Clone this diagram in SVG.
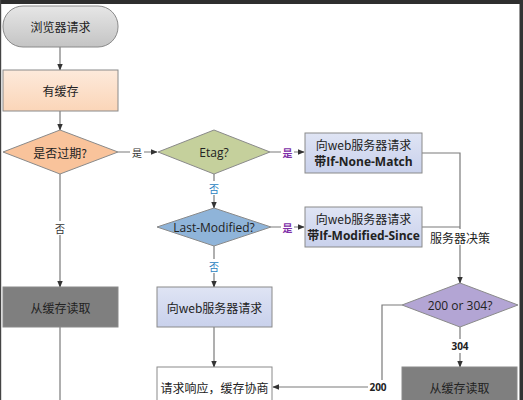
<svg xmlns="http://www.w3.org/2000/svg" width="523" height="400" viewBox="0 0 523 400">
<defs>
<linearGradient id="gStart" x1="0" y1="0" x2="0" y2="1"><stop offset="0" stop-color="#e6e6e6"/><stop offset="1" stop-color="#c4c4c4"/></linearGradient>
<linearGradient id="gPeach" x1="0" y1="0" x2="0" y2="1"><stop offset="0" stop-color="#fdeadb"/><stop offset="1" stop-color="#fbd5b8"/></linearGradient>
<linearGradient id="gBlue" x1="0" y1="0" x2="0" y2="1"><stop offset="0" stop-color="#dfe4f4"/><stop offset="1" stop-color="#c9d1ec"/></linearGradient>
<marker id="arr" viewBox="0 0 10 10" refX="9" refY="5" markerWidth="7" markerHeight="7" orient="auto" markerUnits="userSpaceOnUse"><path d="M0,1 L10,5 L0,9 Z" fill="#333"/></marker>
<style>
.lbl{font-family:"Noto Sans CJK SC","Noto Sans",sans-serif;font-size:12px;fill:#222;text-anchor:middle;dominant-baseline:central}
.en{font-family:"Open Sans","Noto Sans CJK SC",sans-serif;font-size:12px;fill:#222;text-anchor:middle;dominant-baseline:central}
.cn{stroke:#7a7a7a;stroke-width:1.2;fill:none}
.box{stroke:#8a8a8a;stroke-width:1}
.tag{font-family:"Noto Sans CJK SC",sans-serif;font-size:10px;text-anchor:middle;dominant-baseline:central}
</style>
</defs>
<rect width="523" height="400" fill="#ffffff"/>
<rect x="0" y="0" width="523" height="4" fill="#2e2e2e"/>
<rect x="0" y="0" width="1.2" height="400" fill="#444"/>
<rect x="519.5" y="0" width="3.5" height="400" fill="#333"/>

<g id="connectors">
<line class="cn" x1="60" y1="47" x2="60" y2="70" marker-end="url(#arr)"/>
<line class="cn" x1="60" y1="111" x2="60" y2="130" marker-end="url(#arr)"/>
<line class="cn" x1="118" y1="152" x2="157" y2="152" marker-end="url(#arr)"/>
<line class="cn" x1="270" y1="152" x2="304" y2="152" marker-end="url(#arr)"/>
<line class="cn" x1="214" y1="174" x2="214" y2="208" marker-end="url(#arr)"/>
<line class="cn" x1="271" y1="227" x2="304" y2="227" marker-end="url(#arr)"/>
<line class="cn" x1="214" y1="246" x2="214" y2="287" marker-end="url(#arr)"/>
<line class="cn" x1="214" y1="327" x2="214" y2="367" marker-end="url(#arr)"/>
<line class="cn" x1="60" y1="174" x2="60" y2="287" marker-end="url(#arr)"/>
<line class="cn" x1="60" y1="327" x2="60" y2="400"/>
<polyline class="cn" points="422,153 460,153 460,283" marker-end="url(#arr)"/>
<line class="cn" x1="422" y1="227" x2="460" y2="227"/>
<line class="cn" x1="460" y1="327" x2="460" y2="367" marker-end="url(#arr)"/>
<polyline class="cn" points="402,305 382,305 382,387 273,387" marker-end="url(#arr)"/>
<rect x="130" y="145" width="14" height="14" fill="#fff"/>
<text class="tag" x="137" y="152" fill="#333">是</text>
<rect x="281" y="145" width="13" height="14" fill="#fff"/>
<text class="tag" x="287.5" y="152" fill="#8030a8" font-weight="bold">是</text>
<rect x="207" y="181" width="14" height="14" fill="#fff"/>
<text class="tag" x="214" y="188" fill="#2a7fc0">否</text>
<rect x="281" y="220" width="13" height="14" fill="#fff"/>
<text class="tag" x="287.5" y="227" fill="#8030a8" font-weight="bold">是</text>
<rect x="207" y="259" width="14" height="14" fill="#fff"/>
<text class="tag" x="214" y="266" fill="#2a7fc0">否</text>
<rect x="53" y="221" width="14" height="14" fill="#fff"/>
<text class="tag" x="60" y="228" fill="#333">否</text>
<rect x="428" y="229" width="64" height="16" fill="#fff"/>
<text class="lbl" x="460" y="237">服务器决策</text>
<rect x="450" y="339" width="20" height="14" fill="#fff"/>
<text class="tag" x="460" y="346" fill="#222" font-weight="bold" style="font-family:'Open Sans',sans-serif">304</text>
<rect x="368" y="380" width="20" height="14" fill="#fff"/>
<text class="tag" x="378" y="387" fill="#222" font-weight="bold" style="font-family:'Open Sans',sans-serif">200</text>
</g>

<g id="start"><rect class="box" x="3" y="6" width="115" height="41" rx="20" fill="url(#gStart)"/><text class="lbl" x="60.5" y="26.5">浏览器请求</text></g>
<g id="hasCache"><rect class="box" x="3" y="70" width="115" height="41" fill="url(#gPeach)"/><text class="lbl" x="60.5" y="90.5">有缓存</text></g>
<g id="expired"><polygon class="box" points="3,152 60,130 118,152 60,174" fill="#f9c39b"/><text class="lbl" x="60" y="152" font-size="13">是否过期?</text></g>
<g id="etag"><polygon class="box" points="158,152 214,130 270,152 214,174" fill="#c5d09c"/><text class="en" x="214" y="152" font-size="13">Etag?</text></g>
<g id="req1"><rect class="box" x="305" y="133" width="117" height="40" fill="url(#gBlue)"/><text class="lbl" x="363.5" y="144">向web服务器请求</text><text class="en" x="363.5" y="161" font-weight="bold" font-size="10.5">带If-None-Match</text></g>
<g id="lastMod"><polygon class="box" points="157,227 214,208 271,227 214,246" fill="#8fb4d9"/><text class="en" x="214" y="227" font-size="13">Last-Modified?</text></g>
<g id="req2"><rect class="box" x="305" y="207" width="117" height="40" fill="url(#gBlue)"/><text class="lbl" x="363.5" y="218">向web服务器请求</text><text class="en" x="363.5" y="235" font-weight="bold" font-size="10.5">带If-Modified-Since</text></g>
<g id="req3"><rect class="box" x="157" y="287" width="115" height="40" fill="url(#gBlue)"/><text class="lbl" x="214.5" y="307">向web服务器请求</text></g>
<g id="resp"><rect class="box" x="157" y="367" width="115" height="40" fill="#ffffff"/><text class="lbl" x="214.5" y="387">请求响应，缓存协商</text></g>
<g id="decide"><polygon class="box" points="402,305 460,283 518,305 460,327" fill="#b3a5d4"/><text class="en" x="460" y="305" font-size="13">200 or 304?</text></g>
<g id="readCacheL"><rect class="box" x="3" y="287" width="115" height="40" fill="#7f7f7f"/><text class="lbl" x="60.5" y="307">从缓存读取</text></g>
<g id="readCacheR"><rect class="box" x="402" y="367" width="115" height="40" fill="#7f7f7f"/><text class="lbl" x="459.5" y="387">从缓存读取</text></g>
</svg>
